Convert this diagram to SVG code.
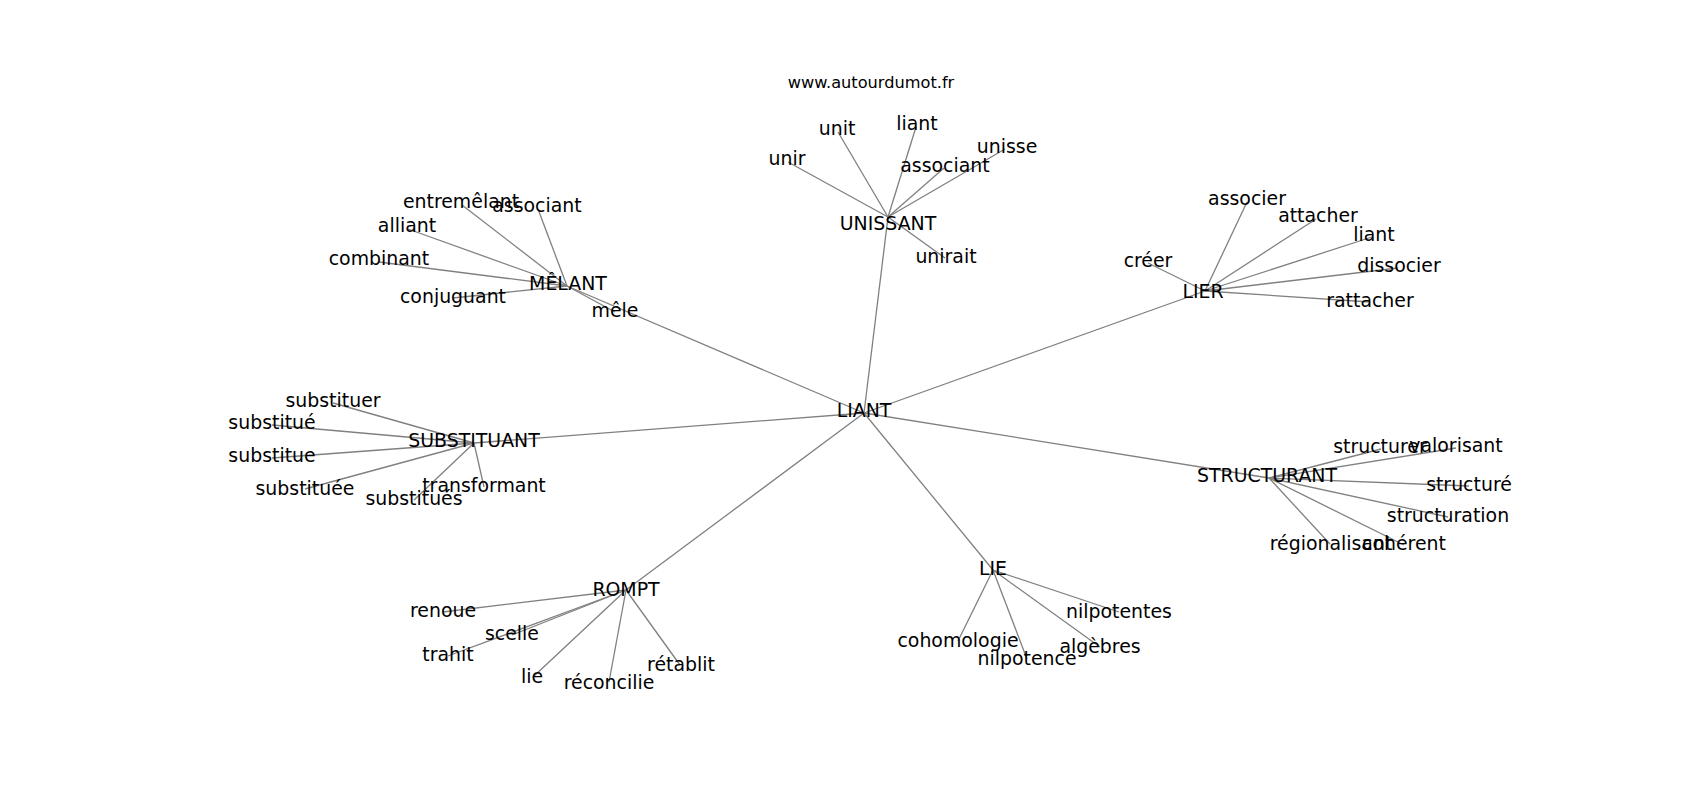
<svg xmlns="http://www.w3.org/2000/svg" width="1700" height="800" viewBox="0 0 1700 800">
<style>
.e{stroke:#808080;stroke-width:1.3;fill:none}
text{font-family:"DejaVu Sans",sans-serif;fill:#000;text-anchor:middle}
.n text{font-size:18.9px}
.t{font-size:16.2px}
</style>
<rect width="1700" height="800" fill="#fff"/>
<g id="connectors">
<line class="e" x1="864" y1="413" x2="888" y2="217"/>
<line class="e" x1="864" y1="413" x2="567" y2="286"/>
<line class="e" x1="864" y1="413" x2="1205" y2="291"/>
<line class="e" x1="864" y1="413" x2="474" y2="443"/>
<line class="e" x1="864" y1="413" x2="1269" y2="478"/>
<line class="e" x1="864" y1="413" x2="626" y2="590"/>
<line class="e" x1="864" y1="413" x2="993" y2="570"/>
<line class="e" x1="888" y1="217" x2="788" y2="162"/>
<line class="e" x1="888" y1="217" x2="838" y2="132"/>
<line class="e" x1="888" y1="217" x2="916" y2="127"/>
<line class="e" x1="888" y1="217" x2="944" y2="168"/>
<line class="e" x1="888" y1="217" x2="1005" y2="149"/>
<line class="e" x1="888" y1="217" x2="945" y2="258"/>
<line class="e" x1="567" y1="286" x2="462" y2="205"/>
<line class="e" x1="567" y1="286" x2="538" y2="209"/>
<line class="e" x1="567" y1="286" x2="408" y2="229"/>
<line class="e" x1="567" y1="286" x2="379" y2="262"/>
<line class="e" x1="567" y1="286" x2="453" y2="298"/>
<line class="e" x1="567" y1="286" x2="615" y2="312"/>
<line class="e" x1="1205" y1="291" x2="1247" y2="202"/>
<line class="e" x1="1205" y1="291" x2="1316" y2="219"/>
<line class="e" x1="1205" y1="291" x2="1372" y2="237"/>
<line class="e" x1="1205" y1="291" x2="1398" y2="268"/>
<line class="e" x1="1205" y1="291" x2="1370" y2="302"/>
<line class="e" x1="1205" y1="291" x2="1148" y2="263"/>
<line class="e" x1="474" y1="443" x2="333" y2="403"/>
<line class="e" x1="474" y1="443" x2="272" y2="425"/>
<line class="e" x1="474" y1="443" x2="272" y2="458"/>
<line class="e" x1="474" y1="443" x2="305" y2="489"/>
<line class="e" x1="474" y1="443" x2="414" y2="500"/>
<line class="e" x1="474" y1="443" x2="484" y2="487"/>
<line class="e" x1="1269" y1="478" x2="1381" y2="449"/>
<line class="e" x1="1269" y1="478" x2="1456" y2="448"/>
<line class="e" x1="1269" y1="478" x2="1469" y2="486"/>
<line class="e" x1="1269" y1="478" x2="1448" y2="517"/>
<line class="e" x1="1269" y1="478" x2="1330" y2="544"/>
<line class="e" x1="1269" y1="478" x2="1404" y2="545"/>
<line class="e" x1="626" y1="590" x2="443" y2="612"/>
<line class="e" x1="626" y1="590" x2="512" y2="635"/>
<line class="e" x1="626" y1="590" x2="448" y2="656"/>
<line class="e" x1="626" y1="590" x2="533" y2="677"/>
<line class="e" x1="626" y1="590" x2="609" y2="682"/>
<line class="e" x1="626" y1="590" x2="680" y2="665"/>
<line class="e" x1="993" y1="570" x2="1119" y2="612"/>
<line class="e" x1="993" y1="570" x2="958" y2="641"/>
<line class="e" x1="993" y1="570" x2="1027" y2="659"/>
<line class="e" x1="993" y1="570" x2="1100" y2="647"/>
</g>
<text class="t" x="871" y="88">www.autourdumot.fr</text>
<g class="n">
<g id="n-liant-center"><text x="864" y="417">LIANT</text></g>
<g id="n-unissant"><text x="888" y="230">UNISSANT</text></g>
<g id="n-unir"><text x="787" y="165">unir</text></g>
<g id="n-unit"><text x="837" y="135">unit</text></g>
<g id="n-liant-u"><text x="917" y="130">liant</text></g>
<g id="n-associant-u"><text x="945" y="172">associant</text></g>
<g id="n-unisse"><text x="1007" y="153">unisse</text></g>
<g id="n-unirait"><text x="946" y="263">unirait</text></g>
<g id="n-melant"><text x="568" y="290">MÊLANT</text></g>
<g id="n-entremelant"><text x="461" y="208">entremêlant</text></g>
<g id="n-associant-m"><text x="537" y="212">associant</text></g>
<g id="n-alliant"><text x="407" y="232">alliant</text></g>
<g id="n-combinant"><text x="379" y="265">combinant</text></g>
<g id="n-conjuguant"><text x="453" y="303">conjuguant</text></g>
<g id="n-mele"><text x="615" y="317">mêle</text></g>
<g id="n-lier"><text x="1203" y="298">LIER</text></g>
<g id="n-associer"><text x="1247" y="205">associer</text></g>
<g id="n-attacher"><text x="1318" y="222">attacher</text></g>
<g id="n-liant-l"><text x="1374" y="241">liant</text></g>
<g id="n-dissocier"><text x="1399" y="272">dissocier</text></g>
<g id="n-rattacher"><text x="1370" y="307">rattacher</text></g>
<g id="n-creer"><text x="1148" y="267">créer</text></g>
<g id="n-substituant"><text x="474" y="447">SUBSTITUANT</text></g>
<g id="n-substituer"><text x="333" y="407">substituer</text></g>
<g id="n-substitue-acc"><text x="272" y="429">substitué</text></g>
<g id="n-substitue"><text x="272" y="462">substitue</text></g>
<g id="n-substituee"><text x="305" y="495">substituée</text></g>
<g id="n-substitues"><text x="414" y="505">substitués</text></g>
<g id="n-transformant"><text x="484" y="492">transformant</text></g>
<g id="n-structurant"><text x="1267" y="482">STRUCTURANT</text></g>
<g id="n-structurer"><text x="1380" y="453">structurer</text></g>
<g id="n-valorisant"><text x="1456" y="452">valorisant</text></g>
<g id="n-structure-acc"><text x="1469" y="491">structuré</text></g>
<g id="n-structuration"><text x="1448" y="522">structuration</text></g>
<g id="n-regionalisant"><text x="1331" y="550">régionalisant</text></g>
<g id="n-coherent"><text x="1404" y="550">cohérent</text></g>
<g id="n-rompt"><text x="626" y="596">ROMPT</text></g>
<g id="n-renoue"><text x="443" y="617">renoue</text></g>
<g id="n-scelle"><text x="512" y="640">scelle</text></g>
<g id="n-trahit"><text x="448" y="661">trahit</text></g>
<g id="n-lie-r"><text x="532" y="683">lie</text></g>
<g id="n-reconcilie"><text x="609" y="689">réconcilie</text></g>
<g id="n-retablit"><text x="681" y="671">rétablit</text></g>
<g id="n-lie"><text x="993" y="575">LIE</text></g>
<g id="n-nilpotentes"><text x="1119" y="618">nilpotentes</text></g>
<g id="n-cohomologie"><text x="958" y="647">cohomologie</text></g>
<g id="n-nilpotence"><text x="1027" y="665">nilpotence</text></g>
<g id="n-algebres"><text x="1100" y="653">algèbres</text></g>
</g>
</svg>
